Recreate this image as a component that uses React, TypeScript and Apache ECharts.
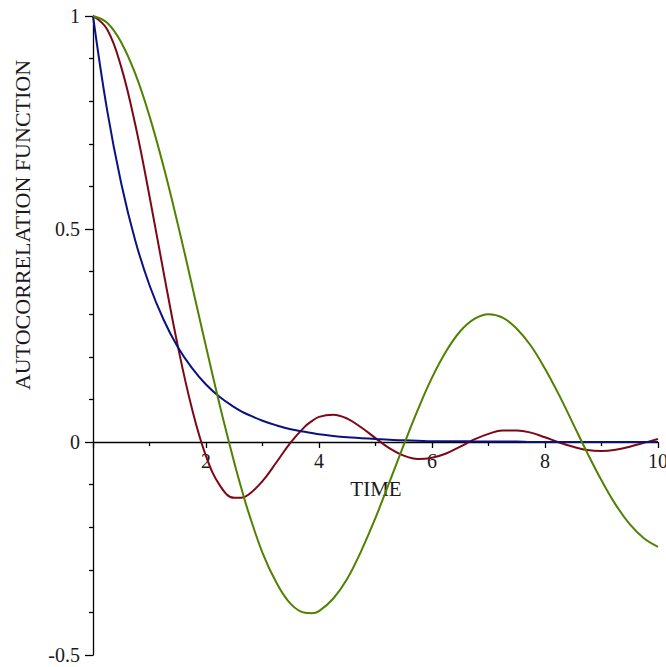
import React, { useEffect, useRef } from "react";
import * as echarts from "echarts";

const times = [0, 0.25, 0.5, 0.75, 1, 1.25, 1.5, 1.75, 2, 2.25, 2.5, 2.625, 2.75, 3, 3.25, 3.5, 3.75, 3.875, 4, 4.25, 4.5, 4.75, 5, 5.25, 5.5, 5.75, 6, 6.25, 6.5, 6.75, 7, 7.25, 7.5, 7.75, 8, 8.25, 8.5, 8.75, 9, 9.25, 9.5, 9.75, 10];

const blueSeries = [1, 0.779, 0.607, 0.472, 0.368, 0.287, 0.223, 0.174, 0.135, 0.105, 0.082, 0.072, 0.064, 0.05, 0.039, 0.03, 0.024, 0.021, 0.018, 0.014, 0.011, 0.009, 0.007, 0.005, 0.004, 0.003, 0.002, 0.002, 0.002, 0.001, 0.001, 0.001, 0.001, 0, 0, 0, 0, 0, 0, 0, 0, 0, 0];

const redSeries = [1, 0.969, 0.88, 0.744, 0.577, 0.398, 0.226, 0.079, -0.033, -0.103, -0.131, -0.131, -0.124, -0.092, -0.047, -0.001, 0.036, 0.049, 0.059, 0.064, 0.055, 0.034, 0.009, -0.015, -0.032, -0.04, -0.037, -0.027, -0.011, 0.006, 0.019, 0.027, 0.027, 0.022, 0.011, -0.001, -0.011, -0.019, -0.021, -0.018, -0.011, -0.002, 0.007];

const greenSeries = [1, 0.984, 0.938, 0.864, 0.765, 0.646, 0.512, 0.369, 0.224, 0.083, -0.048, -0.108, -0.164, -0.26, -0.331, -0.38, -0.401, -0.402, -0.397, -0.368, -0.321, -0.255, -0.178, -0.093, -0.007, 0.076, 0.151, 0.213, 0.26, 0.289, 0.3, 0.292, 0.266, 0.226, 0.172, 0.11, 0.042, -0.026, -0.09, -0.147, -0.193, -0.226, -0.246];

const xTickLabels = ["2", "4", "6", "8", "10"];
const yTickLabels = ["-0.5", "0", "0.5", "1"];

const xTitle = "TIME";
const yTitle = "AUTOCORRELATION FUNCTION";

export default function App() {
  const ref = useRef<HTMLDivElement>(null);
  useEffect(() => {
    if (!ref.current) return;
    const chart = echarts.init(ref.current, null, { renderer: "svg" });
    const font = "'Liberation Serif', 'Times New Roman', serif";
    const pairs = (vals: number[]) => times.map((t, i) => [t, vals[i]]);
    const fmt = (v: number) => String(Math.round(v * 10) / 10);
    chart.setOption({
      animation: false,
      backgroundColor: "#ffffff",
      grid: { left: 93, right: 8, top: 16, bottom: 12, containLabel: false, outerBoundsMode: "none" },
      xAxis: {
        type: "value",
        min: 0,
        max: 10,
        interval: 2,
        offset: 0,
        axisLine: { onZero: false, lineStyle: { color: "#000", width: 1.3 } },
        axisTick: { show: true, length: 6, lineStyle: { color: "#000", width: 1.3 } },
        minorTick: { show: true, splitNumber: 2, length: 4, lineStyle: { color: "#000", width: 1.3 } },
        splitLine: { show: false },
        axisLabel: {
          formatter: (v: number) => (xTickLabels.includes(fmt(v)) ? fmt(v) : ""),
          fontFamily: font,
          fontSize: 20,
          color: "#1a1a1a",
          margin: 9,
          hideOverlap: false,
        },
      },
      yAxis: {
        type: "value",
        min: -0.5,
        max: 1,
        interval: 0.5,
        axisLine: { show: true, onZero: false, lineStyle: { color: "#000", width: 1.3 } },
        axisTick: { show: true, length: 8, lineStyle: { color: "#000", width: 1.3 } },
        minorTick: { show: true, splitNumber: 5, length: 4, lineStyle: { color: "#000", width: 1.3 } },
        splitLine: { show: false },
        axisLabel: {
          formatter: (v: number) => (yTickLabels.includes(fmt(v)) ? fmt(v) : ""),
          fontFamily: font,
          fontSize: 20,
          color: "#1a1a1a",
          margin: 13,
        },
      },
      graphic: [
        {
          type: "text",
          x: 376,
          y: 489,
          style: {
            text: xTitle,
            align: "center",
            verticalAlign: "middle",
            font: `21px ${font}`,
            fill: "#1a1a1a",
          },
        },
        {
          type: "text",
          x: 22,
          y: 225,
          rotation: Math.PI / 2,
          style: {
            text: yTitle,
            align: "center",
            verticalAlign: "middle",
            font: `22px ${font}`,
            fill: "#1a1a1a",
          },
        },
      ],
      series: [
        {
          type: "line",
          data: pairs(redSeries),
          smooth: 0.4,
          showSymbol: false,
          lineStyle: { color: "#7E0716", width: 2 },
          z: 2,
        },
        {
          type: "line",
          data: pairs(blueSeries),
          smooth: 0.4,
          showSymbol: false,
          lineStyle: { color: "#0A1280", width: 2 },
          z: 3,
        },
        {
          type: "line",
          data: pairs(greenSeries),
          smooth: 0.4,
          showSymbol: false,
          lineStyle: { color: "#4F8200", width: 2 },
          z: 4,
        },
      ],
    });
    const zeroY = chart.convertToPixel({ yAxisIndex: 0 }, 0) as number;
    const bottomY = chart.convertToPixel({ yAxisIndex: 0 }, -0.5) as number;
    chart.setOption({ xAxis: { offset: zeroY - bottomY } });
    return () => chart.dispose();
  }, []);
  return (
    <div
      ref={ref}
      style={{ position: "fixed", left: 0, top: 0, width: 666, height: 667, background: "#fff" }}
    />
  );
}
